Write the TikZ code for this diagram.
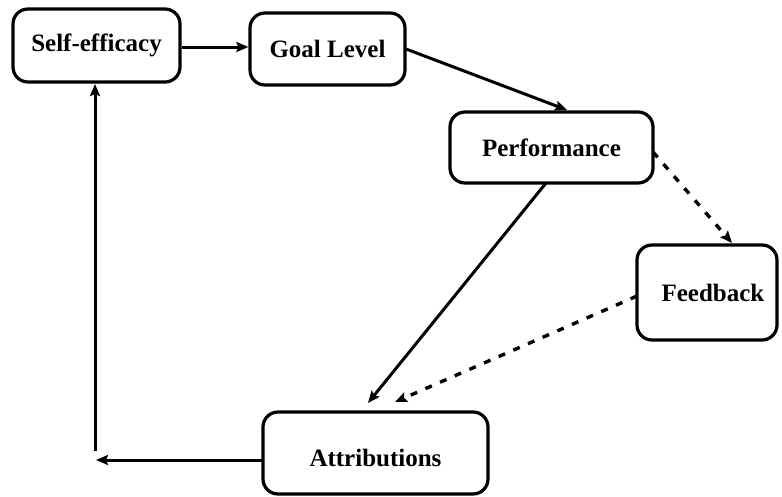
\documentclass[tikz,border=0pt]{standalone}
\usepackage{fontspec}
\setmainfont{Liberation Serif}
\usetikzlibrary{arrows.meta}
\begin{document}
\begin{tikzpicture}[x=1pt,y=-1pt,
  box/.style={draw, line width=3.2pt, rounded corners=15pt, inner sep=0pt,
    font=\fontsize{25}{30}\selectfont\bfseries},
  link/.style={line width=3pt, -{Stealth[length=12pt,width=10pt,inset=2pt]}},
  dashlink/.style={link, line width=3.4pt, dash pattern=on 7pt off 9pt}]
\useasboundingbox (0,0) rectangle (782,496);

% concept boxes
\node[box, minimum width=167pt, minimum height=73pt] (self) at (96.5,45.5) {Self-efficacy};
\node[box, minimum width=155pt, minimum height=72pt] (goal) at (327.5,49) {Goal Level};
\node[box, minimum width=203pt, minimum height=71pt] (perf) at (551.5,147.5) {Performance};
\node[box, minimum width=140pt, minimum height=95pt] (fb) at (707,292.5) {\hspace*{12pt}Feedback};
\node[box, minimum width=225pt, minimum height=82pt] (attr) at (375.5,453) {\raisebox{-5pt}[\height][\depth]{Attributions}};

% free ends of the connectors
\coordinate (perfin) at (567,110);
\coordinate (fbin) at (732,243);
\coordinate (attrin) at (368,403);
\coordinate (attrfb) at (395,402);
\coordinate (loopend) at (96,460);
\coordinate (loopstart) at (95,451);
\coordinate (selfin) at (95,84);
\coordinate (attrout) at (263,460);
\coordinate (goalout) at (406,49);
\coordinate (perfout) at (653,152);
\coordinate (perfdown) at (546,183);
\coordinate (fbout) at (637,296);

% solid links
\draw[link] (self.east |- 0,47) -- (goal.west |- 0,47);
\draw[link] (goalout) -- (perfin);
\draw[link] (perfdown) -- (attrin);
\draw[link] (attrout) -- (loopend);
\draw[link] (loopstart) -- (selfin);

% dashed links
\draw[dashlink] (perfout) -- (fbin);
\draw[dashlink] (fbout) -- (attrfb);
\end{tikzpicture}
\end{document}
